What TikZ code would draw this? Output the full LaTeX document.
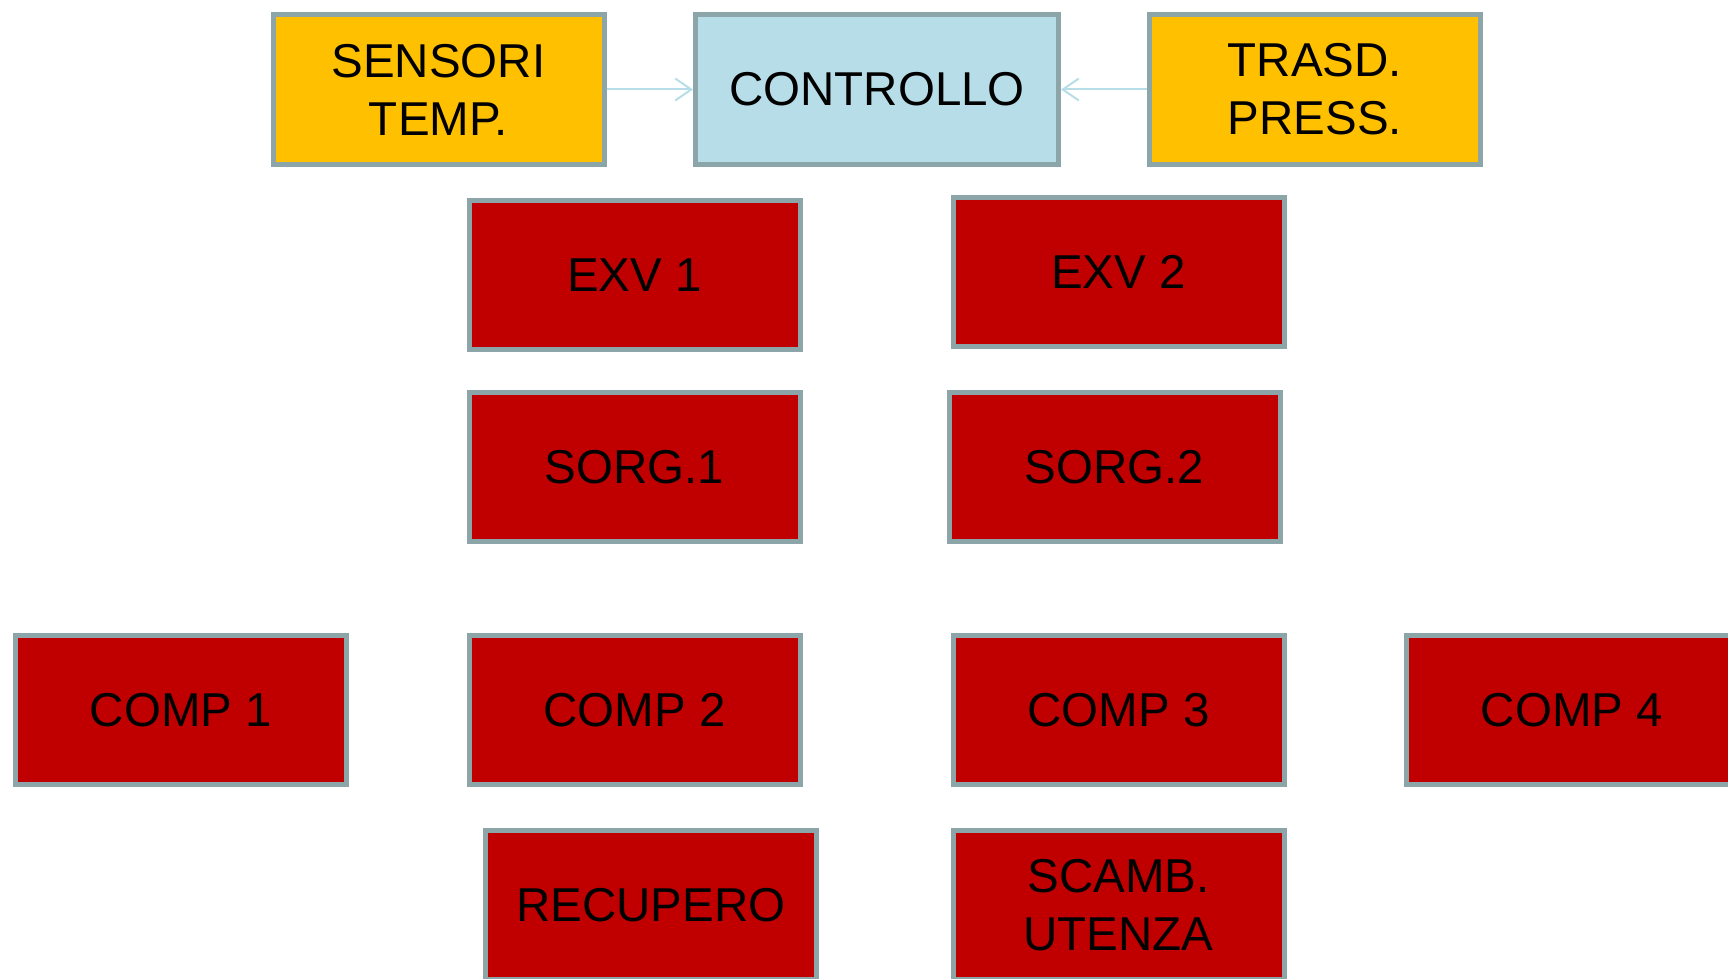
\documentclass[tikz,border=0pt]{standalone}
\usepackage{fontspec}
\setmainfont{Liberation Sans}
\usetikzlibrary{arrows.meta}
\definecolor{boxred}{HTML}{C00000}
\definecolor{boxyellow}{HTML}{FFC000}
\definecolor{boxblue}{HTML}{B7DEE8}
\definecolor{boxgrey}{HTML}{8BA5A8}
\definecolor{linkblue}{HTML}{B7DEE8}
\tikzset{
  unit/.style={draw=boxgrey, line width=5pt, minimum width=331pt, minimum height=149pt,
    inner sep=0pt, align=center, font=\fontsize{47.5}{58}\selectfont, text=black},
  redunit/.style={unit, fill=boxred},
  yellowunit/.style={unit, fill=boxyellow},
  link/.style={draw=linkblue, line width=2pt, -{Straight Barb[length=16pt,width=22pt]}}
}
\begin{document}
\begin{tikzpicture}[x=1pt, y=-1pt]
            \useasboundingbox (0,0) rectangle (1728,979);
            % top row
            \node[yellowunit] (sensori) at (438.5,89.5) {SENSORI\\TEMP.};
            \node[unit, fill=boxblue, minimum width=363pt] (controllo) at (877,89.5) {CONTROLLO};
            \node[yellowunit] (trasd) at (1315,89.5) {TRASD.\\PRESS.};
            \draw[link] (sensori) -- (controllo);
            \draw[link] (trasd) -- (controllo);
            % valves and sources
            \node[redunit] (exv1) at (634.5,275) {EXV 1};
            \node[redunit] (exv2) at (1118.5,272) {EXV 2};
            \node[redunit] (sorg1) at (634.5,467) {SORG.1};
            \node[redunit] (sorg2) at (1114.5,467) {SORG.2};
            % compressors
            \node[redunit] (comp1) at (181,710) {COMP 1};
            \node[redunit] (comp2) at (634.5,710) {COMP 2};
            \node[redunit] (comp3) at (1118.5,710) {COMP 3};
            \node[redunit] (comp4) at (1572,710) {COMP 4};
            % bottom row
            \node[redunit] (recupero) at (651,905) {RECUPERO};
            \node[redunit] (scamb) at (1118.5,905) {SCAMB.\\UTENZA};
        \end{tikzpicture}
\end{document}
